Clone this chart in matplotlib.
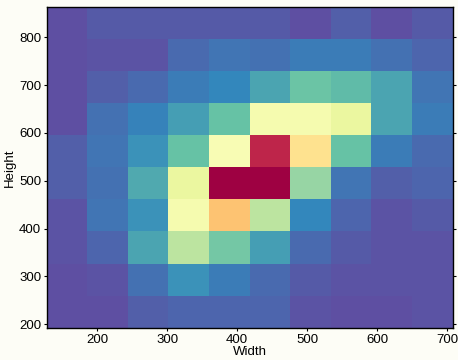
import numpy as np
import matplotlib

matplotlib.use("Agg")
import matplotlib.pyplot as plt

# bin edges of the 2D histogram (Width along x, Height along y)
width_edges = [128, 186, 244, 302, 360, 418, 476, 534, 592, 650, 708]
height_edges = [192, 259, 326, 394, 461, 528, 595, 662, 730, 797, 864]

# relative density per cell, rows from bottom (Height 192) to top (864)
density = [
    [0.00, 0.00, 0.03, 0.04, 0.04, 0.04, 0.01, 0.00, 0.00, 0.01],
    [0.00, 0.01, 0.06, 0.12, 0.08, 0.05, 0.02, 0.01, 0.01, 0.01],
    [0.01, 0.04, 0.15, 0.33, 0.22, 0.14, 0.05, 0.02, 0.01, 0.01],
    [0.01, 0.07, 0.12, 0.46, 0.66, 0.33, 0.10, 0.04, 0.01, 0.02],
    [0.03, 0.06, 0.16, 0.42, 1.00, 1.00, 0.27, 0.07, 0.03, 0.04],
    [0.03, 0.07, 0.12, 0.20, 0.47, 0.94, 0.59, 0.20, 0.08, 0.05],
    [0.00, 0.06, 0.09, 0.14, 0.20, 0.46, 0.46, 0.42, 0.15, 0.08],
    [0.00, 0.03, 0.05, 0.08, 0.10, 0.15, 0.21, 0.19, 0.15, 0.07],
    [0.00, 0.01, 0.01, 0.05, 0.07, 0.06, 0.08, 0.08, 0.06, 0.04],
    [0.00, 0.02, 0.02, 0.02, 0.02, 0.02, 0.00, 0.03, 0.00, 0.02],
]

x_ticks = [200, 300, 400, 500, 600, 700]
y_ticks = [200, 300, 400, 500, 600, 700, 800]

plt.rcParams["font.family"] = ["Liberation Sans", "DejaVu Sans"]

fig = plt.figure(figsize=(4.58, 3.6), dpi=100, facecolor="#fdfdf6")
ax = fig.add_axes([0.102, 0.089, 0.886, 0.892])

ax.pcolormesh(width_edges, height_edges, np.array(density),
              cmap="Spectral_r", vmin=0, vmax=1, shading="flat")

ax.set_xlim(width_edges[0], width_edges[-1])
ax.set_ylim(height_edges[0], height_edges[-1])
ax.set_xticks(x_ticks)
ax.set_yticks(y_ticks)
ax.tick_params(direction="out", length=2, width=0.8, labelsize=9.5,
               right=True, top=False, pad=2)
for s in ax.spines.values():
    s.set_linewidth(1.0)

ax.set_xlabel("Width", fontsize=9.5, labelpad=0)
ax.set_ylabel("Height", fontsize=9.5, labelpad=2)

fig.savefig("out.png", dpi=100, facecolor=fig.get_facecolor())
